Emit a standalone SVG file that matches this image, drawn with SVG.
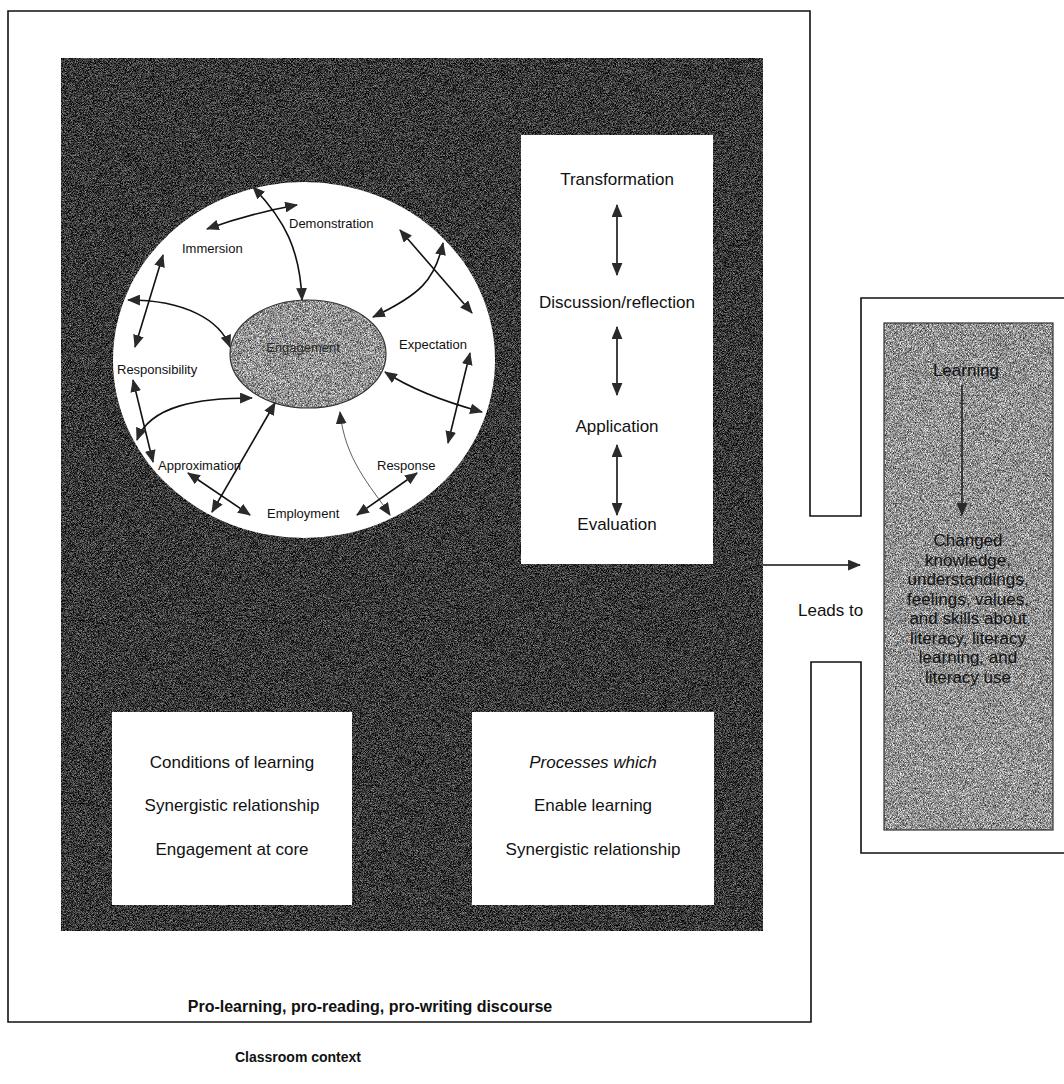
<svg xmlns="http://www.w3.org/2000/svg" width="1064" height="1084" viewBox="0 0 1064 1084">
<defs>
  <style>
    .t{font-family:"Liberation Sans",Arial,sans-serif;fill:#111;}
    .s13{font-size:13px;}
    .s17{font-size:17px;}
    .b{font-weight:bold;}
    .mid{text-anchor:middle;}
    .frame{fill:none;stroke:#111;stroke-width:1.6;stroke-linecap:square;stroke-linejoin:miter;}
    .wbox{fill:#fff;}
    .arr{fill:none;stroke:#111;stroke-width:1.6;marker-start:url(#ah);marker-end:url(#ah);}
    .thin{fill:none;stroke:#333;stroke-width:0.8;marker-start:url(#ah);marker-end:url(#ah);}
    .one{fill:none;stroke:#111;stroke-width:1.4;marker-end:url(#ah);}
  </style>
  <marker id="ah" viewBox="0 0 12 10" refX="11" refY="5" markerWidth="13" markerHeight="11" markerUnits="userSpaceOnUse" orient="auto-start-reverse">
    <path d="M0,0 L12,5 L0,10 z" fill="#2a2a2a"/>
  </marker>
  <filter id="fxDark" x="0" y="0" width="1" height="1" color-interpolation-filters="sRGB">
    <feTurbulence type="fractalNoise" baseFrequency="1.4" numOctaves="1" seed="7"/>
    <feColorMatrix type="matrix" values="1 0 0 0 0  1 0 0 0 0  1 0 0 0 0  0 0 0 0 1"/>
    <feComponentTransfer>
      <feFuncR type="linear" slope="1.3" intercept="-0.43"/>
      <feFuncG type="linear" slope="1.3" intercept="-0.43"/>
      <feFuncB type="linear" slope="1.3" intercept="-0.43"/>
    </feComponentTransfer>
    <feComposite in2="SourceGraphic" operator="in"/>
  </filter>
  <filter id="fxGray" x="0" y="0" width="1" height="1" color-interpolation-filters="sRGB">
    <feTurbulence type="fractalNoise" baseFrequency="1.4" numOctaves="1" seed="3"/>
    <feColorMatrix type="matrix" values="1 0 0 0 0  1 0 0 0 0  1 0 0 0 0  0 0 0 0 1"/>
    <feComponentTransfer>
      <feFuncR type="linear" slope="1.5" intercept="-0.17"/>
      <feFuncG type="linear" slope="1.5" intercept="-0.17"/>
      <feFuncB type="linear" slope="1.5" intercept="-0.17"/>
    </feComponentTransfer>
    <feComposite in2="SourceGraphic" operator="in"/>
  </filter>
</defs>

<rect x="0" y="0" width="1064" height="1084" fill="#fff"/>

<g id="classroom-frame">
  <path class="frame" d="M8,1022 V11 H810 V516 H861 V298 H1066 M1066,853 H861 V662 H811 V1022 H8"/>
  <text class="t b mid" x="370" y="1012" style="font-size:16px">Pro-learning, pro-reading, pro-writing discourse</text>
  <text class="t b mid" x="298" y="1062" style="font-size:14px">Classroom context</text>
</g>

<g id="discourse-panel">
  <rect x="61" y="58" width="702" height="873" fill="#000" filter="url(#fxDark)"/>
</g>

<g id="conditions-circle">
  <ellipse cx="304" cy="360" rx="191" ry="178" class="wbox"/>
</g>

<g id="engagement">
  <ellipse cx="308" cy="354" rx="78" ry="54" fill="#000" filter="url(#fxGray)"/>
  <ellipse cx="308" cy="354" rx="78" ry="54" fill="none" stroke="#333" stroke-width="1.2"/>
  <text class="t s13 mid" x="303" y="352" style="fill:#2a2a2a">Engagement</text>
</g>

<g id="immersion"><text class="t s13" x="182" y="253">Immersion</text></g>
<g id="demonstration"><text class="t s13" x="289" y="228">Demonstration</text></g>
<g id="expectation"><text class="t s13" x="399" y="349">Expectation</text></g>
<g id="responsibility"><text class="t s13" x="117" y="374">Responsibility</text></g>
<g id="approximation"><text class="t s13" x="158" y="470">Approximation</text></g>
<g id="response"><text class="t s13" x="377" y="470">Response</text></g>
<g id="employment"><text class="t s13" x="267" y="518">Employment</text></g>

<g id="processes-column">
  <rect x="521" y="135" width="192" height="429" class="wbox"/>
  <text class="t s17 mid" x="617" y="185">Transformation</text>
  <text class="t s17 mid" x="617" y="308">Discussion/reflection</text>
  <text class="t s17 mid" x="617" y="432">Application</text>
  <text class="t s17 mid" x="617" y="530">Evaluation</text>
</g>

<g id="conditions-box">
  <rect x="112" y="712" width="240" height="193" class="wbox"/>
  <text class="t s17 mid" x="232" y="768">Conditions of learning</text>
  <text class="t s17 mid" x="232" y="811">Synergistic relationship</text>
  <text class="t s17 mid" x="232" y="855">Engagement at core</text>
</g>

<g id="processes-box">
  <rect x="472" y="712" width="242" height="193" class="wbox"/>
  <text class="t s17 mid" x="593" y="768" style="font-style:italic">Processes which</text>
  <text class="t s17 mid" x="593" y="811">Enable learning</text>
  <text class="t s17 mid" x="593" y="855">Synergistic relationship</text>
</g>

<g id="learning-box">
  <rect x="884" y="323" width="169" height="507" fill="#000" filter="url(#fxGray)"/>
  <rect x="884" y="323" width="169" height="507" fill="none" stroke="#333" stroke-width="1.2"/>
  <text class="t s17 mid" x="966" y="376">Learning</text>
  <text class="t s17 mid" x="968" y="546">Changed</text>
  <text class="t s17 mid" x="968" y="565.5">knowledge,</text>
  <text class="t s17 mid" x="968" y="585">understandings,</text>
  <text class="t s17 mid" x="968" y="604.5">feelings, values,</text>
  <text class="t s17 mid" x="968" y="624">and skills about</text>
  <text class="t s17 mid" x="968" y="643.5">literacy, literacy</text>
  <text class="t s17 mid" x="968" y="663">learning, and</text>
  <text class="t s17 mid" x="968" y="682.5">literacy use</text>
</g>

<g id="leads-to-label">
  <text class="t s17" x="798" y="616">Leads to</text>
</g>

<g id="connectors">
  <path class="arr" d="M207,229 Q252,213 297,205"/>
  <path class="arr" d="M253,187 C285,220 300,250 302,300"/>
  <path class="arr" d="M163,255 L135,347"/>
  <path class="arr" d="M128,300 C185,300 220,320 230,347"/>
  <path class="arr" d="M400,230 L472,313"/>
  <path class="arr" d="M373,317 C420,295 435,280 443,243"/>
  <path class="arr" d="M470,353 L448,443"/>
  <path class="arr" d="M385,372 Q420,395 482,412"/>
  <path class="arr" d="M133,380 L153,462"/>
  <path class="arr" d="M137,440 C150,405 200,398 252,398"/>
  <path class="arr" d="M275,403 L212,512"/>
  <path class="arr" d="M188,473 L250,515"/>
  <path class="thin" d="M340,412 C345,460 370,485 390,515"/>
  <path class="arr" d="M417,473 L357,515"/>
  <path class="arr" d="M617,205 L617,275"/>
  <path class="arr" d="M617,327 L617,395"/>
  <path class="arr" d="M617,445 L617,515"/>
  <path class="one" d="M763,565 L860,565"/>
  <path class="one" d="M962,385 L962,515"/>
</g>
</svg>
